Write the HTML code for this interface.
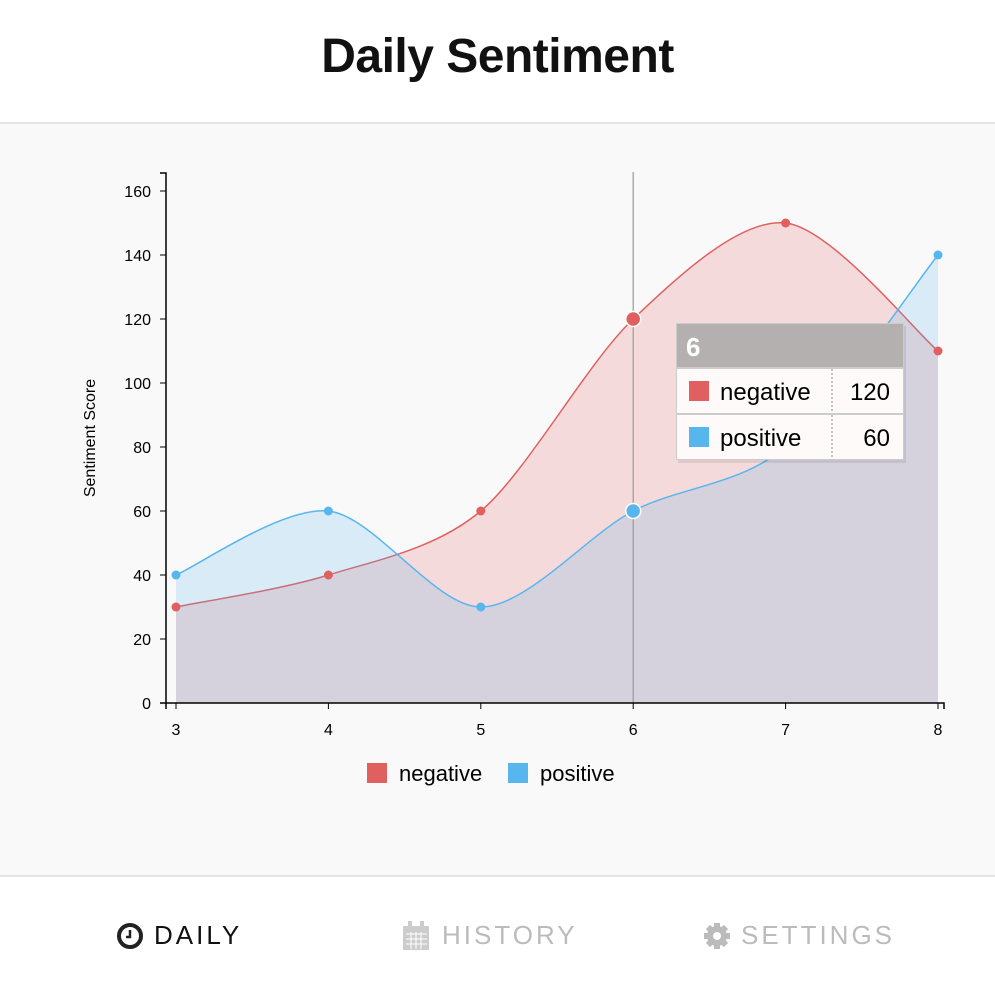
<!DOCTYPE html>
<html><head><meta charset="utf-8"><style>
body{margin:0;width:995px;height:990px;font-family:"Liberation Sans",sans-serif;background:#fff;position:relative;overflow:hidden}
#title{position:absolute;top:29px;left:0;width:995px;text-align:center;font-size:48px;font-weight:bold;color:#111;letter-spacing:-0.5px}
#panel{position:absolute;top:122px;left:0;width:995px;height:755px;background:#f9f9f9;border-top:2px solid #e4e4e4;border-bottom:2px solid #e4e4e4;box-sizing:border-box}
.nav{position:absolute;top:920px;font-size:26px;letter-spacing:3px;color:#bbb;display:flex;align-items:center}
</style></head><body>
<div id="title">Daily Sentiment</div>
<div id="panel"></div>
<svg id="chart" width="995" height="990" style="position:absolute;left:0;top:0"></svg>
<div class="nav" style="left:116px;color:#111"><svg width="28" height="28" style="margin-right:10px"><circle cx="14" cy="14" r="11" fill="none" stroke="#222" stroke-width="4"/><path d="M14 8V15H10" stroke="#222" stroke-width="2.5" fill="none"/></svg>DAILY</div>
<div class="nav" style="left:402px"><svg width="28" height="30" style="margin-right:12px"><rect x="1" y="5" width="26" height="24" fill="#ccc"/><rect x="6" y="0" width="4" height="8" fill="#ccc"/><rect x="18" y="0" width="4" height="8" fill="#ccc"/><path d="M4 13H25M4 18H25M4 23H25M9 11V28M14 11V28M19 11V28" stroke="#fff" stroke-width="1"/></svg>HISTORY</div>
<div class="nav" style="left:703px"><svg width="28" height="28" style="margin-right:10px"><circle cx="14" cy="14" r="10" fill="#bbb"/><g stroke="#bbb" stroke-width="6"><path d="M14 1V27M1 14H27M5 5L23 23M23 5L5 23"/></g><circle cx="14" cy="14" r="4" fill="#fff"/></svg>SETTINGS</div>
<script>
const categories=[3,4,5,6,7,8];
const negative=[30,40,60,120,150,110];
const positive=[40,60,30,60,80,140];
const yTicks=[0,20,40,60,80,100,120,140,160];
const focusIndex=3;
const NS="http://www.w3.org/2000/svg";
const svg=document.getElementById('chart');
const x=v=>176+(v-3)*152.4, y=v=>703-v*3.2;
function el(t,a,p){const e=document.createElementNS(NS,t);for(const k in a)e.setAttribute(k,a[k]);(p||svg).appendChild(e);return e;}
function spline(pts){const a=0.15;let d="M"+pts[0][0]+","+pts[0][1];
for(let i=0;i<pts.length-1;i++){const p0=pts[i-1]||pts[i],p1=pts[i],p2=pts[i+1],p3=pts[i+2]||pts[i+1];
const t1=[a*(p2[0]-p0[0]),a*(p2[1]-p0[1])],t2=[a*(p3[0]-p1[0]),a*(p3[1]-p1[1])];
d+="C"+(p1[0]+t1[0])+","+(p1[1]+t1[1])+" "+(p2[0]-t2[0])+","+(p2[1]-t2[1])+" "+p2[0]+","+p2[1];}return d;}
const series=[{name:'negative',vals:negative,color:'#e06060',fill:'rgba(224,96,96,0.2)'},{name:'positive',vals:positive,color:'#58b6ef',fill:'rgba(88,182,239,0.2)'}];
series.forEach(s=>{const pts=categories.map((c,i)=>[x(c),y(s.vals[i])]);const d=spline(pts);
const area=el('path',{d:d+"L"+x(categories[categories.length-1])+","+y(0)+"L"+x(categories[0])+","+y(0)+"Z",fill:s.fill});


const line=el('path',{d:d,fill:'none',stroke:s.color,'stroke-width':1.5});

});
const vl=el('line',{x1:x(categories[focusIndex]),x2:x(categories[focusIndex]),y1:172,y2:703,stroke:'#999','stroke-width':1.2});


series.forEach(s=>{categories.forEach((c,i)=>{const f=i===focusIndex;
const pt=el('circle',{cx:x(c),cy:y(s.vals[i]),r:f?7.5:4.5,fill:s.color,stroke:f?'#fff':'none','stroke-width':1.5});

});});
el('path',{d:"M160,173H166V703H160",fill:'none',stroke:'#000','stroke-width':1.5});
yTicks.forEach(v=>{el('line',{x1:160,x2:166,y1:y(v),y2:y(v),stroke:'#000'});
const t=el('text',{x:151,y:y(v)+6,'text-anchor':'end','font-size':16});t.textContent=v;

});
el('path',{d:"M166,709V703H944V709",fill:'none',stroke:'#000','stroke-width':1.5});
categories.forEach(c=>{el('line',{x1:x(c),x2:x(c),y1:703,y2:709,stroke:'#000'});
const t=el('text',{x:x(c),y:735,'text-anchor':'middle','font-size':16});t.textContent=c;

});
const yt=el('text',{transform:'translate(95,438) rotate(-90)','text-anchor':'middle','font-size':16});yt.textContent='Sentiment Score';


[[367,399,0],[508,540,1]].forEach(([rx,tx,i])=>{const g=el('g',{});


el('rect',{x:rx,y:763,width:20,height:20,fill:series[i].color},g);
const t=el('text',{x:tx,y:781,'font-size':22},g);t.textContent=series[i].name;});
const tg=el('g',{});


el('rect',{x:678,y:326,width:228,height:137,fill:'rgba(0,0,0,0.08)'},tg);
el('rect',{x:676,y:323,width:228,height:137,fill:'#ccc'},tg);
el('rect',{x:677,y:324,width:226,height:43,fill:'#b3b0af'},tg);
const h=el('text',{x:686,y:356,'font-size':26,'font-weight':'bold',fill:'#fff'},tg);h.textContent=categories[focusIndex];
series.forEach((s,i)=>{const ry=369+i*46;
el('rect',{x:677,y:ry,width:226,height:44,fill:'#fffafa'},tg);
el('line',{x1:832,x2:832,y1:ry,y2:ry+44,stroke:'#888','stroke-dasharray':'2,2'},tg);
el('rect',{x:689,y:ry+12,width:20,height:20,fill:s.color},tg);
const n=el('text',{x:720,y:ry+31,'font-size':24},tg);n.textContent=s.name;
const v=el('text',{x:890,y:ry+31,'font-size':24,'text-anchor':'end'},tg);v.textContent=s.vals[focusIndex];});
</script>
</body></html>
